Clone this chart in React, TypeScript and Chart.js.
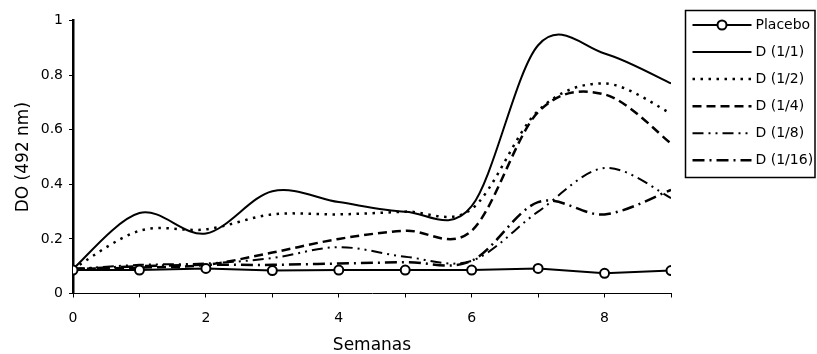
import React, { useEffect, useRef } from 'react';
import { Chart, registerables } from 'chart.js';

Chart.register(...registerables);

// ---- data ----
const weeks = [0, 1, 2, 3, 4, 5, 6, 7, 8, 9];
const placebo = [0.086, 0.086, 0.092, 0.084, 0.086, 0.086, 0.086, 0.092, 0.074, 0.084];
const d1_1 = [0.09, 0.295, 0.22, 0.375, 0.335, 0.3, 0.32, 0.91, 0.88, 0.77];
const d1_2 = [0.09, 0.23, 0.235, 0.29, 0.29, 0.3, 0.31, 0.67, 0.77, 0.66];
const d1_4 = [0.09, 0.095, 0.105, 0.15, 0.2, 0.23, 0.23, 0.665, 0.73, 0.55];
const d1_8 = [0.09, 0.105, 0.11, 0.13, 0.17, 0.135, 0.12, 0.3, 0.46, 0.35];
const d1_16 = [0.09, 0.1, 0.105, 0.105, 0.11, 0.115, 0.12, 0.335, 0.29, 0.38];
const seriesLabels = ['Placebo', 'D (1/1)', 'D (1/2)', 'D (1/4)', 'D (1/8)', 'D (1/16)'];
const xTickLabels = ['0', '', '2', '', '4', '', '6', '', '8', ''];
const yTickValues = [0, 0.2, 0.4, 0.6, 0.8, 1];
const yTickLabels = ['0', '0.2', '0.4', '0.6', '0.8', '1'];
const xTitle = 'Semanas';
const yTitle = 'DO (492 nm)';

const FONT = '"DejaVu Sans", "Liberation Sans", Arial, sans-serif';

// Excel-like (Catmull-Rom) smoothing of the line control points
const excelSmooth = {
  id: 'excelSmooth',
  beforeDatasetDraw(chart: any, args: any) {
    const ds = chart.data.datasets[args.index];
    if (!ds.smooth) return;
    const pts = args.meta.data as any[];
    const n = pts.length;
    for (let i = 0; i < n; i++) {
      const p0 = pts[Math.max(i - 1, 0)];
      const p1 = pts[i];
      const p2 = pts[Math.min(i + 1, n - 1)];
      const dx = (p2.x - p0.x) / 6;
      const dy = (p2.y - p0.y) / 6;
      p1.cp1x = p1.x - dx;
      p1.cp1y = p1.y - dy;
      p1.cp2x = p1.x + dx;
      p1.cp2y = p1.y + dy;
    }
    const line = args.meta.dataset;
    line._pointsUpdated = true;
    line._path = undefined;
  },
};

// Boxed legend on the right
const boxLegend = {
  id: 'boxLegend',
  afterDraw(chart: any) {
    const ctx = chart.ctx as CanvasRenderingContext2D;
    const area = chart.chartArea;
    const left = area.right + 14.5;
    const top = 10.5;
    const w = 129.5;
    const h = 167;
    ctx.save();
    ctx.lineWidth = 1.5;
    ctx.strokeStyle = '#000';
    ctx.setLineDash([]);
    ctx.strokeRect(left, top, w, h);
    chart.data.datasets.forEach((ds: any, i: number) => {
      const y = top + 14.5 + i * 27.05;
      const x0 = left + 7;
      const x1 = left + 66;
      ctx.save();
      ctx.strokeStyle = ds.borderColor;
      ctx.lineWidth = ds.borderWidth;
      ctx.setLineDash(ds.borderDash || []);
      ctx.beginPath();
      ctx.moveTo(x0, y);
      ctx.lineTo(x1, y);
      ctx.stroke();
      ctx.setLineDash([]);
      if (ds.pointRadius > 0) {
        ctx.beginPath();
        ctx.arc((x0 + x1) / 2, y, ds.pointRadius, 0, Math.PI * 2);
        ctx.fillStyle = ds.pointBackgroundColor;
        ctx.fill();
        ctx.lineWidth = ds.pointBorderWidth;
        ctx.strokeStyle = ds.pointBorderColor;
        ctx.stroke();
      }
      ctx.restore();
      ctx.fillStyle = '#000';
      ctx.font = `14px ${FONT}`;
      ctx.textBaseline = 'middle';
      ctx.textAlign = 'left';
      ctx.fillText(ds.label, left + 70, y);
    });
    ctx.restore();
  },
};

function App() {
  const ref = useRef<HTMLCanvasElement | null>(null);

  useEffect(() => {
    if (!ref.current) return;
    const mk = (vals: number[]) => weeks.map((w, i) => ({ x: w, y: vals[i] }));
    const lineBase = {
      borderColor: '#000',
      backgroundColor: '#000',
      pointRadius: 0,
      pointHoverRadius: 0,
      fill: false,
      tension: 0.4,
      smooth: true,
      order: 1,
    };
    const chart = new Chart(ref.current, {
      type: 'line',
      data: {
        datasets: [
          {
            label: seriesLabels[0],
            data: mk(placebo),
            borderColor: '#000',
            borderWidth: 2,
            pointRadius: 4.5,
            pointBackgroundColor: '#fff',
            pointBorderColor: '#000',
            pointBorderWidth: 2,
            tension: 0,
            order: 0,
          },
          { ...lineBase, label: seriesLabels[1], data: mk(d1_1), borderWidth: 2, borderDash: [] },
          { ...lineBase, label: seriesLabels[2], data: mk(d1_2), borderWidth: 2.5, borderDash: [2.5, 5.5] },
          { ...lineBase, label: seriesLabels[3], data: mk(d1_4), borderWidth: 2.5, borderDash: [9, 5] },
          { ...lineBase, label: seriesLabels[4], data: mk(d1_8), borderWidth: 2, borderDash: [11, 5, 2, 5, 2, 5] },
          { ...lineBase, label: seriesLabels[5], data: mk(d1_16), borderWidth: 2.5, borderDash: [12, 5, 2, 5] },
        ] as any,
      },
      options: {
        responsive: false,
        animation: false,
        events: [],
        layout: { padding: { top: 20.7, right: 146, left: 0, bottom: 0 } },
        plugins: {
          legend: { display: false },
          tooltip: { enabled: false },
        },
        scales: {
          x: {
            type: 'linear',
            min: 0,
            max: 9,
            afterFit: (s: any) => {
              s.height = 60.5;
            },
            afterBuildTicks: (s: any) => {
              s.ticks = weeks.map((w) => ({ value: w }));
            },
            ticks: {
              autoSkip: false,
              maxRotation: 0,
              padding: 12,
              color: '#000',
              font: { family: FONT, size: 14 },
              callback: (v: any) => xTickLabels[weeks.indexOf(Number(v))] ?? '',
            },
            grid: { drawOnChartArea: false, drawTicks: true, tickLength: 4, color: '#000', lineWidth: 1 },
            border: { display: true, color: '#000', width: 1 },
            title: {
              display: true,
              text: xTitle,
              color: '#000',
              font: { family: FONT, size: 17, lineHeight: 1 },
              padding: { top: 0, bottom: 0 },
            },
          },
          y: {
            type: 'linear',
            min: 0,
            max: 1,
            afterFit: (s: any) => {
              s.width = 73;
            },
            afterBuildTicks: (s: any) => {
              s.ticks = yTickValues.map((v) => ({ value: v }));
            },
            ticks: {
              padding: 6,
              color: '#000',
              font: { family: FONT, size: 14 },
              callback: (v: any) => {
                const i = yTickValues.findIndex((t) => Math.abs(t - Number(v)) < 1e-9);
                return i >= 0 ? yTickLabels[i] : '';
              },
            },
            grid: { drawOnChartArea: false, drawTicks: true, tickLength: 4, color: '#000', lineWidth: 1 },
            border: { display: true, color: '#000', width: 2.5 },
            title: {
              display: true,
              text: yTitle,
              color: '#000',
              font: { family: FONT, size: 17, lineHeight: 1.2 },
              padding: { top: 13, bottom: 0 },
            },
          },
        },
      } as any,
      plugins: [excelSmooth, boxLegend],
    });
    return () => chart.destroy();
  }, []);

  return (
    <div style={{ position: 'fixed', left: 0, top: 0, width: 817, height: 354, background: '#fff' }}>
      <canvas ref={ref} width={817} height={354} style={{ display: 'block', width: 817, height: 354 }} />
    </div>
  );
}

export default App;
